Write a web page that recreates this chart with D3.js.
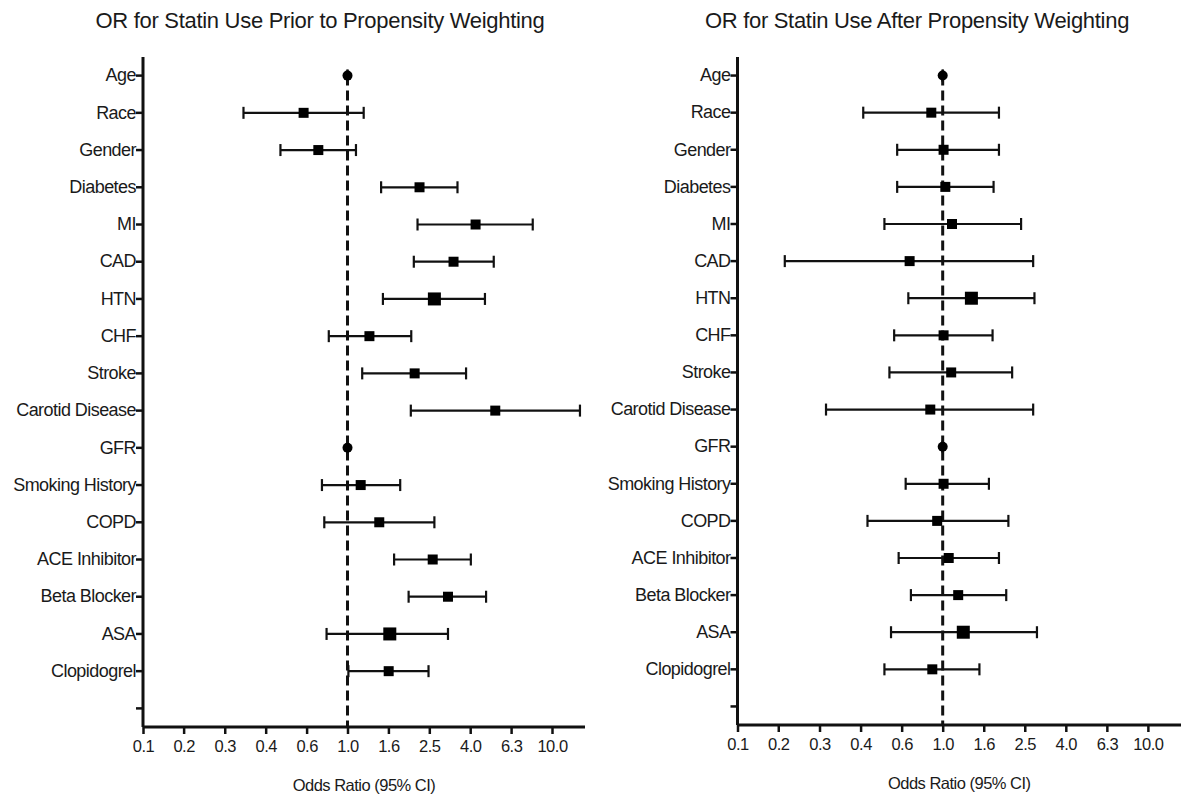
<!DOCTYPE html>
<html>
<head>
<meta charset="utf-8">
<script src="https://cdn.jsdelivr.net/npm/d3@7"></script>
<style>
  body { margin: 0; background: #fff; font-family: "Liberation Sans", Arial, sans-serif; }
  svg text { fill: #1a1a1a; }
</style>
</head>
<body>
<div id="container"></div>
<script>
// 变量名（最后一个空字符串是底部空白刻度）
let categories = ["Age", "Race", "Gender", "Diabetes", "MI", "CAD", "HTN", "CHF", "Stroke",
  "Carotid Disease", "GFR", "Smoking History", "COPD", "ACE Inhibitor", "Beta Blocker", "ASA", "Clopidogrel", ""];
let rightLabels = ["Age", "Race", "Gender", "Diabetes", "MI", "CAD", "HTN", "CHF", "Stroke",
  "Carotid Disease", "GFR", "Smoking  History", "COPD", "ACE Inhibitor", "Beta Blocker", "ASA", "Clopidogrel", ""];

// 加权前 OR 及 95% CI
let priorOR   = [1.0, 0.61, 0.72, 2.25, 4.23, 3.30, 2.66, 1.28, 2.13, 5.28, 1.0, 1.16, 1.43, 2.61, 3.10, 1.61, 1.59];
let priorLow  = [1.0, 0.31, 0.47, 1.46, 2.20, 2.11, 1.49, 0.81, 1.18, 2.04, 1.0, 0.75, 0.77, 1.69, 1.99, 0.79, 1.01];
let priorHigh = [1.0, 1.20, 1.10, 3.45, 8.05, 5.19, 4.70, 2.05, 3.80, 13.7, 1.0, 1.81, 2.66, 4.01, 4.76, 3.10, 2.49];

// 加权后 OR 及 95% CI
let afterOR   = [1.0, 0.88, 1.01, 1.03, 1.11, 0.69, 1.38, 1.01, 1.10, 0.87, 1.0, 1.01, 0.94, 1.07, 1.19, 1.26, 0.89];
let afterLow  = [1.0, 0.41, 0.60, 0.60, 0.52, 0.17, 0.68, 0.58, 0.55, 0.27, 1.0, 0.66, 0.43, 0.61, 0.70, 0.56, 0.52];
let afterHigh = [1.0, 1.88, 1.88, 1.77, 2.41, 2.76, 2.80, 1.75, 2.18, 2.76, 1.0, 1.68, 2.09, 1.88, 2.04, 2.88, 1.51];

// x 轴刻度
let tickValues = [0.1, 0.158, 0.251, 0.398, 0.631, 1, 1.585, 2.512, 3.981, 6.31, 10];
let tickLabels = ["0.1", "0.2", "0.3", "0.4", "0.6", "1.0", "1.6", "2.5", "4.0", "6.3", "10.0"];

let width = 1186;
let height = 800;

let bigMarkers = ["HTN", "ASA"];
let dotMarkers = ["Age", "GFR"];

function drawPanel(svg, opt) {
  let rows = categories.slice(0, opt.or.length).map(function (c, i) {
    return { name: c, or: opt.or[i], lo: opt.lo[i], hi: opt.hi[i] };
  });

  let x = d3.scaleLog().domain([0.1, 14.5]).range([opt.left, opt.right]);
  let y = d3.scaleBand().domain(categories).range([opt.top, opt.bottom]);
  let cy = (d) => y(d) + y.bandwidth() / 2;

  let g = svg.append("g");

  // 标题
  g.append("text")
    .attr("x", opt.titleX)
    .attr("y", 28)
    .attr("text-anchor", "middle")
    .style("font-size", "22px")
    .style("letter-spacing", "-0.3px")
    .text(opt.title);

  // 1.0 参考虚线
  g.append("line")
    .attr("x1", x(1)).attr("x2", x(1))
    .attr("y1", cy("Age")).attr("y2", opt.bottom)
    .attr("stroke", "#111")
    .attr("stroke-width", 3)
    .attr("stroke-dasharray", "10,5");

  // y 轴
  let yAxis = g.append("g")
    .attr("transform", `translate(${opt.left},0)`)
    .call(d3.axisLeft(y).tickSize(7).tickPadding(0).tickFormat((d, i) => opt.labels[i]));
  yAxis.select(".domain").attr("stroke", "#111").attr("stroke-width", 3)
    .attr("d", `M0,${opt.top}V${opt.bottom}`);
  yAxis.selectAll(".tick line").attr("stroke", "#111").attr("stroke-width", 2.5);
  yAxis.selectAll(".tick text")
    .style("font-size", "18px")
    .style("letter-spacing", "-0.55px")
    .style("font-family", "'Liberation Sans', Arial, sans-serif");

  // x 轴
  let xAxis = g.append("g")
    .attr("transform", `translate(0,${opt.bottom})`)
    .call(d3.axisBottom(x).tickValues(tickValues).tickSize(7).tickPadding(6)
      .tickFormat((d, i) => tickLabels[i]));
  xAxis.select(".domain").attr("stroke", "#111").attr("stroke-width", 3)
    .attr("d", `M${opt.left},0H${opt.right}`);
  xAxis.selectAll(".tick line").attr("stroke", "#111").attr("stroke-width", 2.5);
  xAxis.selectAll(".tick text")
    .style("font-size", "16.5px")
    .style("letter-spacing", "-0.5px")
    .style("font-family", "'Liberation Sans', Arial, sans-serif");

  g.append("text")
    .attr("x", (opt.left + opt.right) / 2)
    .attr("y", opt.bottom + 64)
    .attr("text-anchor", "middle")
    .style("font-size", "16.5px")
    .style("letter-spacing", "-0.5px")
    .text("Odds Ratio (95% CI)");

  // 误差线
  let bar = g.selectAll("g.row")
    .data(rows)
    .join("g")
    .attr("class", "row");

  bar.append("line")
    .attr("x1", (d) => x(d.lo)).attr("x2", (d) => x(d.hi))
    .attr("y1", (d) => cy(d.name)).attr("y2", (d) => cy(d.name))
    .attr("stroke", "#111").attr("stroke-width", 2.2);

  ["lo", "hi"].forEach(function (k) {
    bar.append("line")
      .attr("x1", (d) => x(d[k])).attr("x2", (d) => x(d[k]))
      .attr("y1", (d) => cy(d.name) - 6).attr("y2", (d) => cy(d.name) + 6)
      .attr("stroke", "#111").attr("stroke-width", 2.2);
  });

  // 点
  bar.filter((d) => dotMarkers.indexOf(d.name) >= 0)
    .append("circle")
    .attr("cx", (d) => x(d.or)).attr("cy", (d) => cy(d.name))
    .attr("r", 5).attr("fill", "#000");

  bar.filter((d) => dotMarkers.indexOf(d.name) < 0)
    .append("rect")
    .each(function (d) {
      let s = bigMarkers.indexOf(d.name) >= 0 ? 13 : 10;
      d3.select(this)
        .attr("x", x(d.or) - s / 2).attr("y", cy(d.name) - s / 2)
        .attr("width", s).attr("height", s);
    })
    .attr("fill", "#000");
}

function main() {
  let svg = d3.select("#container").append("svg")
    .attr("width", width).attr("height", height);

  drawPanel(svg, {
    title: "OR for Statin Use Prior to Propensity Weighting",
    titleX: 320, labels: categories,
    or: priorOR, lo: priorLow, hi: priorHigh,
    left: 143, right: 585, top: 57, bottom: 727
  });
  drawPanel(svg, {
    title: "OR for Statin Use After Propensity Weighting",
    titleX: 917, labels: rightLabels,
    or: afterOR, lo: afterLow, hi: afterHigh,
    left: 737.5, right: 1181, top: 57, bottom: 725
  });
}

main();
</script>
</body>
</html>
